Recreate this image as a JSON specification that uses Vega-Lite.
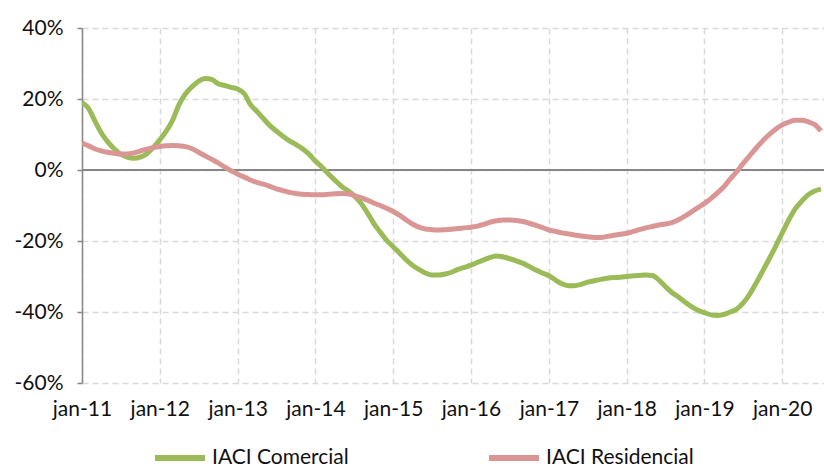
{
  "$schema": "https://vega.github.io/schema/vega-lite/v6.json",
  "width": 742,
  "height": 355,
  "autosize": {"type": "none"},
  "padding": {"left": 82, "top": 28, "right": 0, "bottom": 85},
  "background": "white",
  "config": {
    "view": {"stroke": null},
    "font": "Lato",
    "axis": {"labelFont": "Lato", "labelFontSize": 21, "labelColor": "#111111", "title": null},
    "legend": {"labelFont": "Lato", "labelFontSize": 21, "labelColor": "#111111"}
  },
  "data": {
    "values": [
      {"d":"2011-01","IACI Comercial":19,"IACI Residencial":7.6},
      {"d":"2011-02","IACI Comercial":17.3,"IACI Residencial":6.8},
      {"d":"2011-03","IACI Comercial":14,"IACI Residencial":6},
      {"d":"2011-04","IACI Comercial":10.5,"IACI Residencial":5.4},
      {"d":"2011-05","IACI Comercial":8,"IACI Residencial":5},
      {"d":"2011-06","IACI Comercial":6,"IACI Residencial":4.7},
      {"d":"2011-07","IACI Comercial":4.5,"IACI Residencial":4.5},
      {"d":"2011-08","IACI Comercial":3.6,"IACI Residencial":4.5},
      {"d":"2011-09","IACI Comercial":3.3,"IACI Residencial":4.8},
      {"d":"2011-10","IACI Comercial":3.6,"IACI Residencial":5.3},
      {"d":"2011-11","IACI Comercial":4.6,"IACI Residencial":5.9},
      {"d":"2011-12","IACI Comercial":6.3,"IACI Residencial":6.3},
      {"d":"2012-01","IACI Comercial":8.5,"IACI Residencial":6.6},
      {"d":"2012-02","IACI Comercial":11,"IACI Residencial":6.8},
      {"d":"2012-03","IACI Comercial":14,"IACI Residencial":6.9},
      {"d":"2012-04","IACI Comercial":18.5,"IACI Residencial":6.8},
      {"d":"2012-05","IACI Comercial":21.5,"IACI Residencial":6.6},
      {"d":"2012-06","IACI Comercial":23.5,"IACI Residencial":6},
      {"d":"2012-07","IACI Comercial":25,"IACI Residencial":5},
      {"d":"2012-08","IACI Comercial":25.8,"IACI Residencial":4},
      {"d":"2012-09","IACI Comercial":25.5,"IACI Residencial":3},
      {"d":"2012-10","IACI Comercial":24.3,"IACI Residencial":2},
      {"d":"2012-11","IACI Comercial":23.8,"IACI Residencial":0.8},
      {"d":"2012-12","IACI Comercial":23.3,"IACI Residencial":-0.2},
      {"d":"2013-01","IACI Comercial":22.8,"IACI Residencial":-1.2},
      {"d":"2013-02","IACI Comercial":21.5,"IACI Residencial":-2},
      {"d":"2013-03","IACI Comercial":18.5,"IACI Residencial":-2.8},
      {"d":"2013-04","IACI Comercial":16.5,"IACI Residencial":-3.5},
      {"d":"2013-05","IACI Comercial":14.5,"IACI Residencial":-4},
      {"d":"2013-06","IACI Comercial":12.5,"IACI Residencial":-4.6},
      {"d":"2013-07","IACI Comercial":11,"IACI Residencial":-5.3},
      {"d":"2013-08","IACI Comercial":9.5,"IACI Residencial":-5.8},
      {"d":"2013-09","IACI Comercial":8.2,"IACI Residencial":-6.3},
      {"d":"2013-10","IACI Comercial":7.2,"IACI Residencial":-6.6},
      {"d":"2013-11","IACI Comercial":6,"IACI Residencial":-6.8},
      {"d":"2013-12","IACI Comercial":4.5,"IACI Residencial":-6.9},
      {"d":"2014-01","IACI Comercial":2.5,"IACI Residencial":-7},
      {"d":"2014-02","IACI Comercial":0.8,"IACI Residencial":-7},
      {"d":"2014-03","IACI Comercial":-1,"IACI Residencial":-6.8},
      {"d":"2014-04","IACI Comercial":-2.8,"IACI Residencial":-6.7},
      {"d":"2014-05","IACI Comercial":-4.5,"IACI Residencial":-6.6},
      {"d":"2014-06","IACI Comercial":-5.8,"IACI Residencial":-6.7},
      {"d":"2014-07","IACI Comercial":-7.2,"IACI Residencial":-7.2},
      {"d":"2014-08","IACI Comercial":-9.2,"IACI Residencial":-7.8},
      {"d":"2014-09","IACI Comercial":-12,"IACI Residencial":-8.5},
      {"d":"2014-10","IACI Comercial":-15,"IACI Residencial":-9.3},
      {"d":"2014-11","IACI Comercial":-17.5,"IACI Residencial":-10},
      {"d":"2014-12","IACI Comercial":-19.8,"IACI Residencial":-10.8},
      {"d":"2015-01","IACI Comercial":-21.6,"IACI Residencial":-11.7},
      {"d":"2015-02","IACI Comercial":-23.5,"IACI Residencial":-12.8},
      {"d":"2015-03","IACI Comercial":-25.2,"IACI Residencial":-14},
      {"d":"2015-04","IACI Comercial":-26.8,"IACI Residencial":-15.2},
      {"d":"2015-05","IACI Comercial":-28,"IACI Residencial":-16.1},
      {"d":"2015-06","IACI Comercial":-29,"IACI Residencial":-16.6},
      {"d":"2015-07","IACI Comercial":-29.6,"IACI Residencial":-16.8},
      {"d":"2015-08","IACI Comercial":-29.6,"IACI Residencial":-16.9},
      {"d":"2015-09","IACI Comercial":-29.3,"IACI Residencial":-16.8},
      {"d":"2015-10","IACI Comercial":-28.8,"IACI Residencial":-16.7},
      {"d":"2015-11","IACI Comercial":-28,"IACI Residencial":-16.5},
      {"d":"2015-12","IACI Comercial":-27.4,"IACI Residencial":-16.3},
      {"d":"2016-01","IACI Comercial":-26.8,"IACI Residencial":-16.1},
      {"d":"2016-02","IACI Comercial":-26,"IACI Residencial":-15.8},
      {"d":"2016-03","IACI Comercial":-25.3,"IACI Residencial":-15.3},
      {"d":"2016-04","IACI Comercial":-24.6,"IACI Residencial":-14.7},
      {"d":"2016-05","IACI Comercial":-24.2,"IACI Residencial":-14.3},
      {"d":"2016-06","IACI Comercial":-24.5,"IACI Residencial":-14.1},
      {"d":"2016-07","IACI Comercial":-25,"IACI Residencial":-14.1},
      {"d":"2016-08","IACI Comercial":-25.6,"IACI Residencial":-14.2},
      {"d":"2016-09","IACI Comercial":-26.3,"IACI Residencial":-14.5},
      {"d":"2016-10","IACI Comercial":-27.2,"IACI Residencial":-15},
      {"d":"2016-11","IACI Comercial":-28.2,"IACI Residencial":-15.6},
      {"d":"2016-12","IACI Comercial":-29,"IACI Residencial":-16.2},
      {"d":"2017-01","IACI Comercial":-29.8,"IACI Residencial":-16.9},
      {"d":"2017-02","IACI Comercial":-31,"IACI Residencial":-17.3},
      {"d":"2017-03","IACI Comercial":-32,"IACI Residencial":-17.7},
      {"d":"2017-04","IACI Comercial":-32.6,"IACI Residencial":-18},
      {"d":"2017-05","IACI Comercial":-32.6,"IACI Residencial":-18.3},
      {"d":"2017-06","IACI Comercial":-32.2,"IACI Residencial":-18.6},
      {"d":"2017-07","IACI Comercial":-31.6,"IACI Residencial":-18.8},
      {"d":"2017-08","IACI Comercial":-31.2,"IACI Residencial":-19},
      {"d":"2017-09","IACI Comercial":-30.8,"IACI Residencial":-19},
      {"d":"2017-10","IACI Comercial":-30.5,"IACI Residencial":-18.7},
      {"d":"2017-11","IACI Comercial":-30.3,"IACI Residencial":-18.4},
      {"d":"2017-12","IACI Comercial":-30.2,"IACI Residencial":-18.1},
      {"d":"2018-01","IACI Comercial":-30,"IACI Residencial":-17.8},
      {"d":"2018-02","IACI Comercial":-29.8,"IACI Residencial":-17.3},
      {"d":"2018-03","IACI Comercial":-29.7,"IACI Residencial":-16.8},
      {"d":"2018-04","IACI Comercial":-29.6,"IACI Residencial":-16.3},
      {"d":"2018-05","IACI Comercial":-29.7,"IACI Residencial":-15.9},
      {"d":"2018-06","IACI Comercial":-31,"IACI Residencial":-15.5},
      {"d":"2018-07","IACI Comercial":-32.8,"IACI Residencial":-15.2},
      {"d":"2018-08","IACI Comercial":-34.5,"IACI Residencial":-14.8},
      {"d":"2018-09","IACI Comercial":-35.8,"IACI Residencial":-14},
      {"d":"2018-10","IACI Comercial":-37.2,"IACI Residencial":-13},
      {"d":"2018-11","IACI Comercial":-38.5,"IACI Residencial":-11.8},
      {"d":"2018-12","IACI Comercial":-39.5,"IACI Residencial":-10.6},
      {"d":"2019-01","IACI Comercial":-40.2,"IACI Residencial":-9.4},
      {"d":"2019-02","IACI Comercial":-40.8,"IACI Residencial":-8},
      {"d":"2019-03","IACI Comercial":-41,"IACI Residencial":-6.5},
      {"d":"2019-04","IACI Comercial":-40.7,"IACI Residencial":-4.8},
      {"d":"2019-05","IACI Comercial":-40,"IACI Residencial":-2.6},
      {"d":"2019-06","IACI Comercial":-39.2,"IACI Residencial":-0.5},
      {"d":"2019-07","IACI Comercial":-37.5,"IACI Residencial":1.8},
      {"d":"2019-08","IACI Comercial":-35,"IACI Residencial":4},
      {"d":"2019-09","IACI Comercial":-31.8,"IACI Residencial":6.2},
      {"d":"2019-10","IACI Comercial":-28.5,"IACI Residencial":8.2},
      {"d":"2019-11","IACI Comercial":-25,"IACI Residencial":10},
      {"d":"2019-12","IACI Comercial":-21.5,"IACI Residencial":11.5},
      {"d":"2020-01","IACI Comercial":-17.7,"IACI Residencial":12.7},
      {"d":"2020-02","IACI Comercial":-14,"IACI Residencial":13.5},
      {"d":"2020-03","IACI Comercial":-11,"IACI Residencial":14},
      {"d":"2020-04","IACI Comercial":-8.8,"IACI Residencial":14},
      {"d":"2020-05","IACI Comercial":-7,"IACI Residencial":13.6},
      {"d":"2020-06","IACI Comercial":-5.9,"IACI Residencial":12.8},
      {"d":"2020-07","IACI Comercial":-5.4,"IACI Residencial":11}
    ],
    "format": {"parse": {"d": "utc:'%Y-%m'"}}
  },
  "layer": [
    {
      "mark": {"type": "rule", "color": "#868686", "strokeWidth": 2},
      "encoding": {"y": {"datum": 0, "type": "quantitative"}}
    },
    {
      "transform": [{"fold": ["IACI Comercial", "IACI Residencial"], "as": ["serie", "valor"]}],
      "mark": {"type": "line", "strokeWidth": 5, "interpolate": "monotone", "clip": true},
      "encoding": {
        "x": {
          "field": "d",
          "type": "temporal",
          "scale": {
            "type": "utc",
            "domain": [
              {"year": 2011, "month": 1, "date": 1, "utc": true},
              {"year": 2020, "month": 7, "date": 15, "utc": true}
            ]
          },
          "axis": {
            "tickCount": {"interval": "year", "step": 1},
            "format": "%b-%y",
            "labelExpr": "lower(datum.label)",
            "domain": false,
            "ticks": false,
            "labelPadding": 15,
            "labelFlush": false,
            "labelOverlap": false,
            "grid": true,
            "gridColor": "#D9D9D9",
            "gridDash": [6, 4],
            "gridWidth": 1.5
          }
        },
        "y": {
          "field": "valor",
          "type": "quantitative",
          "scale": {"domain": [-60, 40], "nice": false},
          "axis": {
            "values": [-60, -40, -20, 0, 20, 40],
            "labelExpr": "datum.value + '%'",
            "domain": true,
            "domainColor": "#868686",
            "domainWidth": 1.5,
            "ticks": true,
            "tickColor": "#868686",
            "tickWidth": 1.5,
            "tickSize": 5,
            "labelPadding": 14,
            "grid": true,
            "gridColor": "#D9D9D9",
            "gridDash": [6, 4],
            "gridWidth": 1.5
          }
        },
        "color": {
          "field": "serie",
          "type": "nominal",
          "scale": {"domain": ["IACI Comercial", "IACI Residencial"], "range": ["#9BBB59", "#D99694"]},
          "legend": {
            "title": null,
            "orient": "none",
            "direction": "horizontal",
            "legendX": 70,
            "legendY": 402,
            "symbolType": "stroke",
            "symbolSize": 2500,
            "symbolStrokeWidth": 6,
            "labelOffset": 4,
            "columnPadding": 128,
            "padding": 0
          }
        }
      }
    }
  ]
}
